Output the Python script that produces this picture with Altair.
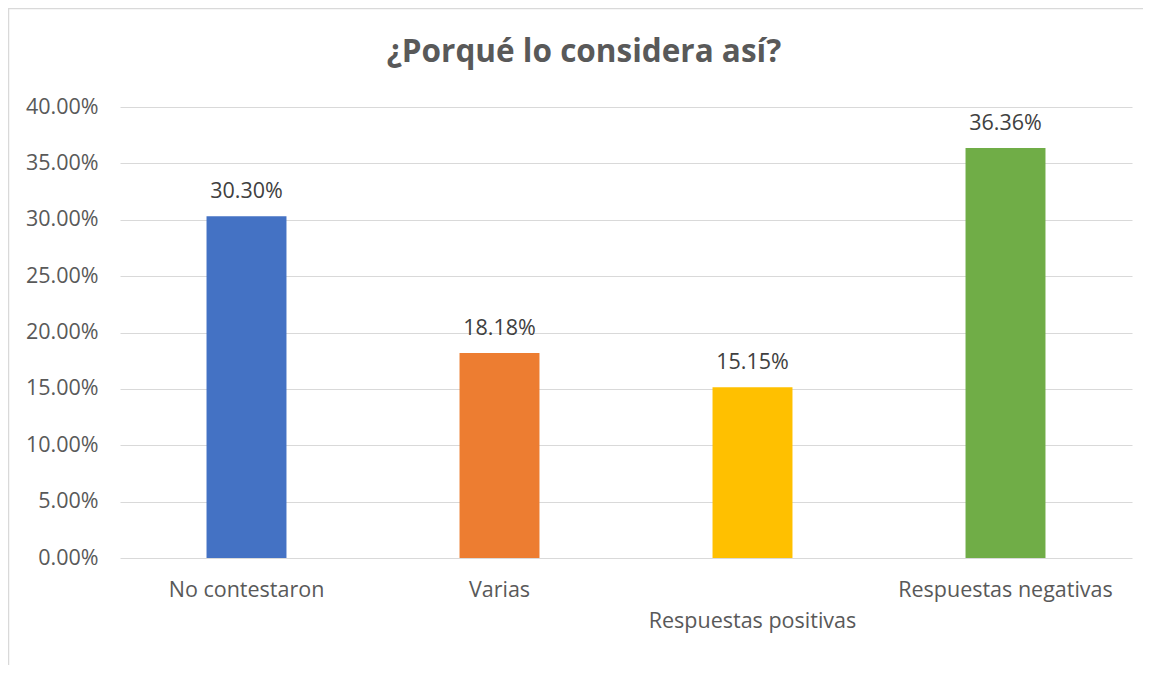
import altair as alt
import pandas as pd

categories = ["No contestaron", "Varias", "Respuestas positivas", "Respuestas negativas"]
values = [0.3030, 0.1818, 0.1515, 0.3636]
colors = ["#4472C4", "#ED7D31", "#FFC000", "#70AD47"]
labels = ["30.30%", "18.18%", "15.15%", "36.36%"]
title_text = "¿Porqué lo considera así?"

df = pd.DataFrame({"cat": categories, "val": values, "lab": labels})

FONT = "Open Sans"
TXT = "#595959"
FS = 21.5

x = alt.X("cat:N", sort=categories, title=None,
          scale=alt.Scale(paddingInner=0.684, paddingOuter=0.342),
          axis=alt.Axis(labelAngle=0, labelFontSize=FS, labelColor=TXT, labelFont=FONT,
                        ticks=False, domain=False, grid=False, labelPadding=21,
                        labelLineHeight=31.5, labelLimit=400, labelOverlap=False,
                        labelExpr="datum.label == 'Respuestas positivas' ? ['', 'Respuestas positivas'] : datum.label"))
y = alt.Y("val:Q", title=None,
          scale=alt.Scale(domain=[0, 0.4]),
          axis=alt.Axis(values=[0, 0.05, 0.1, 0.15, 0.2, 0.25, 0.3, 0.35, 0.4], format=".2%",
                        labelFontSize=FS, labelColor=TXT, labelFont=FONT, ticks=False,
                        domain=False, gridColor="#D9D9D9", gridWidth=1, labelPadding=22))

bars = alt.Chart(df).mark_bar().encode(
    x=x, y=y,
    color=alt.Color("cat:N", sort=categories, scale=alt.Scale(domain=categories, range=colors), legend=None),
)
text = alt.Chart(df).mark_text(fontSize=FS, font=FONT, color="#404040", dy=-18, baseline="alphabetic").encode(
    x=alt.X("cat:N", sort=categories), y="val:Q", text="lab:N"
)
frame = alt.Chart(alt.Data(values=[{}])).mark_rect(fill=None, stroke="#D9D9D9", strokeWidth=1.5).encode(
    x=alt.value(-111.5), x2=alt.value(1100), y=alt.value(-98.5), y2=alt.value(700)
)
title = alt.Chart(alt.Data(values=[{"t": title_text}])).mark_text(
    fontSize=31.5, font=FONT, fontWeight="bold", color=TXT, baseline="middle", align="center"
).encode(x=alt.value(464), y=alt.value(-54), text="t:N")

chart = alt.layer(frame, bars, text, title).properties(
    width=1012, height=451,
    autosize=alt.AutoSizeParams(type="none"),
    padding={"left": 112, "top": 99, "right": 11, "bottom": 107},
).configure_view(stroke=None)

chart.save("out.html", embed_options={"renderer": "svg", "actions": False})
